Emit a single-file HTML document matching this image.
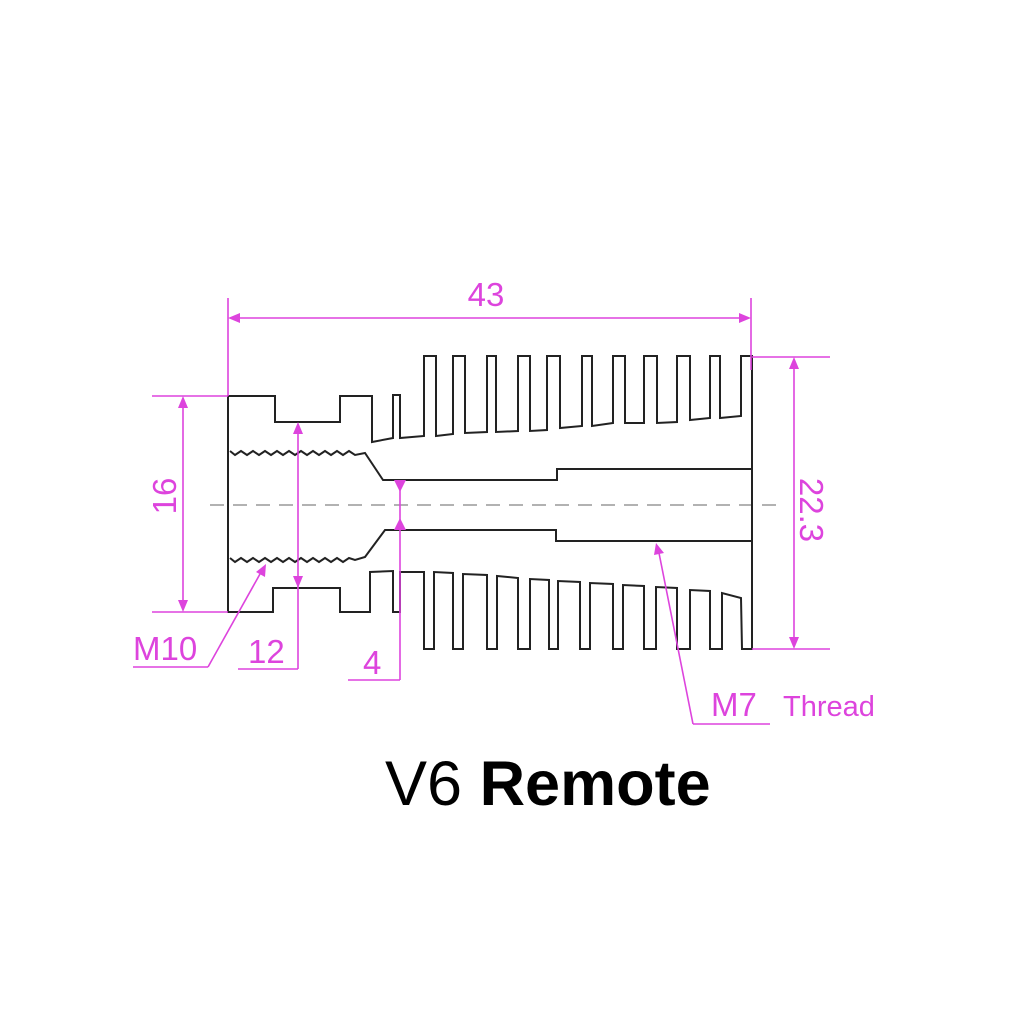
<!DOCTYPE html>
<html><head><meta charset="utf-8"><style>
html,body{margin:0;padding:0;background:#fff;}
svg{display:block;}
</style></head><body>
<svg width="1024" height="1024" viewBox="0 0 1024 1024" xmlns="http://www.w3.org/2000/svg">
<rect width="1024" height="1024" fill="#fff"/>
<defs>
<marker id="a" viewBox="0 0 10 10" refX="10" refY="5" markerWidth="12" markerHeight="8" markerUnits="userSpaceOnUse" orient="auto"><path d="M0,0 L10,5 L0,10 z" fill="#dd44dd"/></marker>
</defs>
<!-- center line -->
<line x1="210" y1="505" x2="782" y2="505" stroke="#999" stroke-width="1.5" stroke-dasharray="14,9"/>
<!-- body -->
<path d="M228,612 L228,396 L275,396 L275,422 L340,422 L340,396 L372,396 L372,442 L393,438 L393,395 L400,395 L400,438 L424,436 L424,356 L436,356 L436,436 L453,434 L453,356 L465,356 L465,433 L487,432 L487,356 L496,356 L496,432 L518,431 L518,356 L530,356 L530,431 L547,430 L547,356 L560,356 L560,428 L582,426 L582,356 L592,356 L592,426 L613,423 L613,356 L625,356 L625,423 L644,423 L644,356 L657,356 L657,423 L677,422 L677,356 L690,356 L690,420 L710,418 L710,356 L720,356 L720,418 L741,416 L741,356 L752,356 L752,649 L742,649 L741,598 L722,593 L722,649 L710,649 L710,591 L690,590 L690,649 L677,649 L677,588 L656,587 L656,649 L644,649 L644,586 L623,585 L623,649 L613,649 L613,584 L590,583 L590,649 L580,649 L580,582 L558,581 L558,649 L549,649 L549,580 L530,579 L530,649 L518,649 L518,578 L497,576 L497,649 L487,649 L487,575 L463,574 L463,649 L453,649 L453,573 L434,572 L434,649 L424,649 L424,572 L400,572 L400,612 L393,612 L393,571 L370,572 L370,612 L340,612 L340,588 L273,588 L273,612 Z" fill="none" stroke="#222" stroke-width="2"/>
<!-- bore -->
<polyline points="230,451 235,455 241,451 247,455 253,451 259,455 265,451 271,455 277,451 283,455 289,451 295,455 301,451 307,455 313,451 319,455 325,451 331,455 337,451 343,455 349,451 355,455 365,453 383,480 557,480 557,469 752,469" fill="none" stroke="#222" stroke-width="2"/>
<polyline points="230,558 235,562 241,558 247,562 253,558 259,562 265,558 271,562 277,558 283,562 289,558 295,562 301,558 307,562 313,558 319,562 325,558 331,562 337,558 343,562 349,558 355,560 365,557 385,530 556,530 556,541 752,541" fill="none" stroke="#222" stroke-width="2"/>
<!-- dims -->
<g stroke="#dd44dd" stroke-width="1.6" fill="none">
<line x1="228" y1="298" x2="228" y2="396"/>
<line x1="751" y1="298" x2="751" y2="370"/>
<line x1="236" y1="318" x2="743" y2="318"/>
<line x1="752" y1="357" x2="830" y2="357"/>
<line x1="752" y1="649" x2="830" y2="649"/>
<line x1="794" y1="365" x2="794" y2="641"/>
<line x1="152" y1="396" x2="228" y2="396"/>
<line x1="152" y1="612" x2="228" y2="612"/>
<line x1="183" y1="404" x2="183" y2="604"/>
<line x1="298" y1="430" x2="298" y2="580"/>
<line x1="298" y1="580" x2="298" y2="669"/>
<line x1="238" y1="669" x2="298" y2="669"/>
<line x1="400" y1="480" x2="400" y2="680"/>
<line x1="348" y1="680" x2="400" y2="680"/>
<line x1="133" y1="667" x2="208" y2="667"/>
<line x1="208" y1="667" x2="260" y2="574"/>
<line x1="693" y1="724" x2="770" y2="724"/>
<line x1="693" y1="724" x2="659" y2="553"/>
</g>
<g fill="#dd44dd">
<path d="M228,318 l12,-5 l0,10z"/><path d="M751,318 l-12,-5 l0,10z"/>
<path d="M794,357 l-5,12 l10,0z"/><path d="M794,649 l-5,-12 l10,0z"/>
<path d="M183,396 l-5,12 l10,0z"/><path d="M183,612 l-5,-12 l10,0z"/>
<path d="M298,422 l-5,12 l10,0z"/><path d="M298,588 l-5,-12 l10,0z"/>
<path d="M394,480 l12,0 l-6,12z"/><path d="M394,530 l12,0 l-6,-12z"/>
<path d="M266,564 l-1,13 l-9,-5z"/>
<path d="M656,543 l8,10 l-10,2z"/>
</g>
<g fill="#dd44dd" font-family="Liberation Sans, sans-serif">
<text x="486" y="306" font-size="33" text-anchor="middle">43</text>
<text transform="translate(176,496) rotate(-90)" font-size="33" text-anchor="middle">16</text>
<text transform="translate(800,510) rotate(90)" font-size="33" text-anchor="middle">22.3</text>
<text x="133" y="660" font-size="33">M10</text>
<text x="248" y="663" font-size="33">12</text>
<text x="363" y="674" font-size="33">4</text>
<text x="711" y="716" font-size="33">M7</text>
<text x="783" y="716" font-size="29">Thread</text>
</g>
<text x="385" y="805" font-family="Liberation Sans, sans-serif" font-size="63" fill="#000">V6 <tspan font-weight="bold">Remote</tspan></text>
</svg>
</body></html>
